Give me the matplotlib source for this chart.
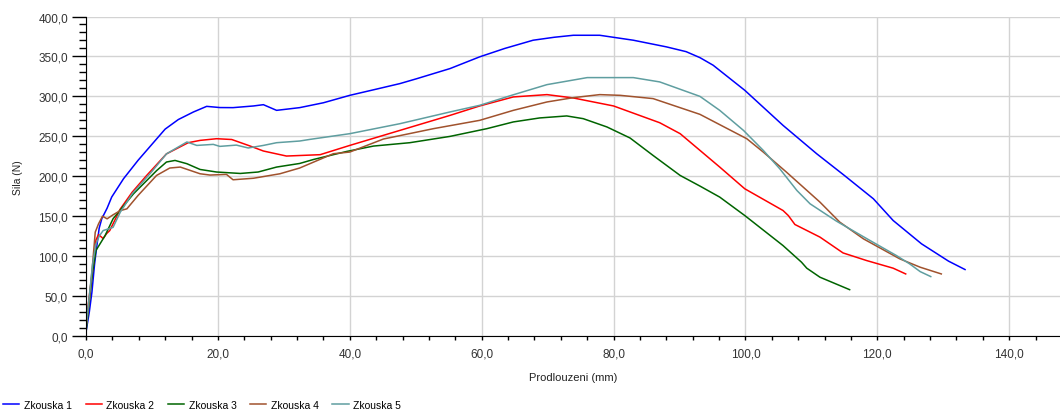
import matplotlib
matplotlib.use("Agg")
import matplotlib.pyplot as plt
from matplotlib.ticker import MultipleLocator, FuncFormatter

plt.rcParams['font.family'] = ['Liberation Sans', 'DejaVu Sans']

# ---- data (Prodlouzeni mm, Sila N) ----
x1 = [0, 0.5, 0.9, 1.3, 1.6, 2.0, 2.4, 3.2, 3.9, 5.7, 7.9, 10.0, 12.0, 14.0, 16.3, 18.3, 20.3, 22.3, 25.4,
      26.9, 28.9, 32.4, 36.0, 40.0, 44.0, 47.6, 50.1, 55.2, 59.7, 63.5, 67.8, 71.0, 73.9, 77.9, 83.0, 88.0,
      91.0, 93.1, 95.1, 99.9, 105.7, 110.8, 115.0, 119.4, 122.4, 126.7, 130.8, 133.3]
y1 = [5, 30, 55, 90, 110, 135, 147, 160, 174, 197, 220, 240, 259, 271, 280.5, 287.5, 286, 285.9, 288,
      289.6, 282.5, 285.9, 292, 301.3, 309, 316, 322, 334.8, 349.5, 360, 370.3, 374, 376.5, 376.5, 370.3, 362,
      356, 348.5, 339, 307.6, 263.7, 228.2, 201, 171.8, 144.6, 115.4, 93.7, 83.2]

x2 = [0, 0.5, 0.9, 1.3, 1.5, 1.9, 2.6, 3.1, 3.6, 5.2, 7.0, 9.2, 12.2, 15.5, 17.3, 19.8, 22.1, 24.9, 26.9,
      30.4, 35.5, 40.0, 47.6, 55.2, 59.7, 64.8, 69.9, 73.9, 80.0, 87.0, 90.1, 93.1, 96.1, 99.9, 105.7,
      106.5, 107.5, 111.3, 114.8, 118.4, 122.4, 124.3]
y2 = [15, 50, 76, 100, 120, 127, 122, 128, 132, 159, 180, 201, 228, 242, 244.9, 247, 246, 237.8, 231.6,
      225.3, 227, 238.6, 257.4, 276.2, 288, 299.3, 302.2, 298, 288, 267, 253.3, 232.4, 211.5, 184.3, 157.1,
      150.8, 139.6, 123.8, 104, 94.4, 84.9, 77.7]

x3 = [0, 0.6, 1.0, 1.5, 2.1, 2.9, 4.1, 7.2, 10.7, 12.2, 13.5, 15.3, 17.3, 19.8, 23.4, 26.1, 28.9, 32.4,
      34.5, 39.5, 43.6, 49.1, 55.2, 60.8, 64.8, 68.8, 72.9, 75.4, 79.0, 82.5, 86.0, 90.1, 93.1, 96.1, 99.9,
      105.7, 108.5, 109.3, 111.3, 115.8]
y3 = [5, 50, 80, 107, 115, 125.8, 146.7, 178, 207, 217.8, 219.8, 215.7, 208.5, 205.3, 203.5, 205.3, 211.5, 216,
      221, 231, 237.8, 242, 249.9, 259.6, 268, 273, 275.5, 272.1, 261.7, 247.9, 226, 201, 187.7, 173.9, 150.8,
      113.2, 92.4, 84.9, 73.6, 58]

x4 = [0, 0.5, 1.0, 1.4, 1.9, 2.5, 3.2, 4.1, 5.2, 6.2, 7.9, 10.7, 12.7, 14.3, 15.8, 17.3, 18.8, 21.3, 22.3,
      25.4, 29.4, 32.4, 37.5, 40.0, 45.1, 52.7, 59.7, 64.8, 69.9, 73.9, 77.9, 81.0, 86.0, 93.1, 96.1, 100.2,
      102.7, 106.2, 111.3, 114.3, 117.9, 123.4, 126.5, 129.7]
y4 = [10, 45, 90, 130, 140.4, 150, 146.7, 151.7, 157, 159.2, 176, 201, 210.3, 211.5, 207.3, 203.1, 201.5, 202.3, 195.6,
      197.5, 203.1, 210.3, 228.2, 230.3, 246.6, 259.6, 270, 282.5, 293, 298.4, 302.2, 301.3, 297.2, 277.5, 264.6, 247,
      230.3, 205.3, 167.6, 142.6, 121.6, 96.6, 86.1, 77.7]

x5 = [0, 0.5, 1.0, 1.5, 2.0, 2.6, 4.1, 5.2, 7.0, 10.0, 12.2, 15.3, 16.8, 19.3, 20.3, 22.8, 24.6, 26.9,
      28.9, 32.4, 34.0, 40.0, 47.6, 55.2, 59.7, 64.8, 69.9, 76.0, 83.0, 87.0, 93.1, 96.1, 99.7, 102.7,
      105.2, 107.8, 109.8, 113.8, 118.9, 122.9, 124.9, 126.5, 128.1]
y5 = [10, 50, 90, 115, 125, 132, 136, 155, 178, 206, 228, 242.9, 238.6, 239.9, 237.4, 239, 235.4, 238.6,
      242, 244.1, 246.2, 253.3, 265.8, 280.5, 288.8, 302, 314.7, 323.5, 323.5, 318.1, 300, 282.5, 257.4, 232.4,
      209.4, 182.2, 165.5, 143.8, 119.5, 100.7, 90.3, 80.6, 74.4]

series_x = [x1, x2, x3, x4, x5]
series_y = [y1, y2, y3, y4, y5]
labels = ["Zkouska 1", "Zkouska 2", "Zkouska 3", "Zkouska 4", "Zkouska 5"]
colors = ["#0000FF", "#FF0000", "#006400", "#A0522D", "#5F9EA0"]

fig = plt.figure(figsize=(10.6, 4.14), dpi=100)
ax = fig.add_axes([86/1060, 1 - 337/414, 1 - 86/1060, (337 - 17.5)/414])

for xs, ys, lab, c in zip(series_x, series_y, labels, colors):
    ax.plot(xs, ys, color=c, lw=1.1, label=lab, solid_joinstyle='round')

ax.set_xlim(0, 147.7)
ax.set_ylim(0, 400)
ax.xaxis.set_major_locator(MultipleLocator(20))
ax.xaxis.set_minor_locator(MultipleLocator(4))
ax.yaxis.set_major_locator(MultipleLocator(50))
ax.yaxis.set_minor_locator(MultipleLocator(10))
fmt = FuncFormatter(lambda v, p: f"{v:.1f}".replace(".", ","))
ax.xaxis.set_major_formatter(fmt)
ax.yaxis.set_major_formatter(fmt)

ax.grid(True, which='major', color='#d3d3d3', lw=1.0)
ax.set_axisbelow(True)
for s in ['top', 'right']:
    ax.spines[s].set_visible(False)
ax.spines['left'].set_color('black')
ax.spines['bottom'].set_color('black')

ax.tick_params(axis='y', which='major', length=10, width=1, pad=3, labelsize=8.5, labelcolor='#333333')
ax.tick_params(axis='y', which='minor', length=5, width=1)
ax.tick_params(axis='x', which='major', length=3, width=1, pad=5, labelsize=8.5, labelcolor='#333333')
ax.tick_params(axis='x', which='minor', length=3, width=1)

ax.set_xlabel("Prodlouzeni (mm)", fontsize=8, color='#222222', labelpad=9)
ax.set_ylabel("Sila (N)", fontsize=7.5, color='#222222', labelpad=11)

fig.legend(loc='lower left', bbox_to_anchor=(0, 0), ncol=5, frameon=False, fontsize=7.5,
           handlelength=1.55, handletextpad=0.45, columnspacing=1.3, borderaxespad=0.1, borderpad=0.2)

fig.savefig("out.png", dpi=100)
